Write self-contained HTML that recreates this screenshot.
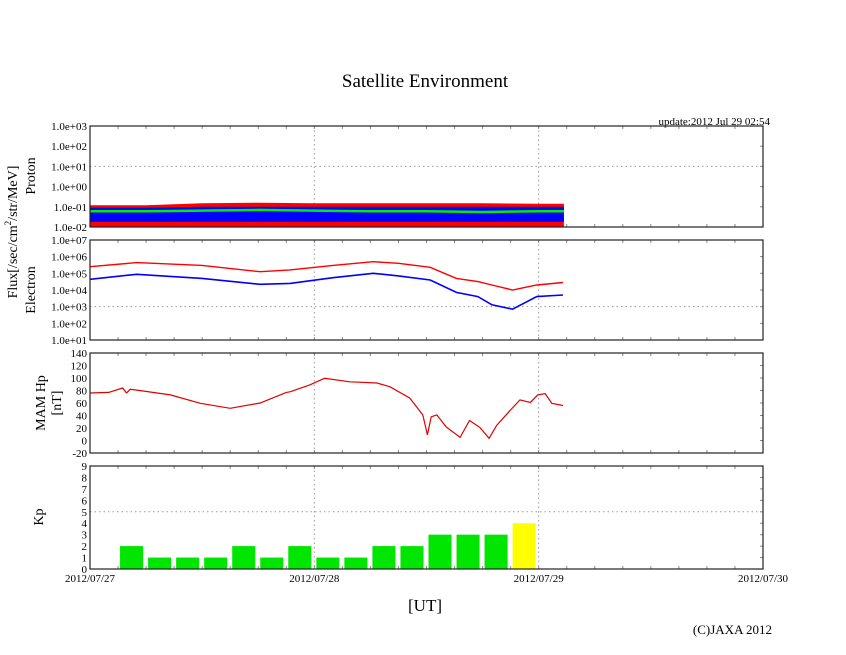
<!DOCTYPE html>
<html><head><meta charset="utf-8">
<style>
html,body{margin:0;padding:0;background:#fff;}
svg{display:block;font-family:"Liberation Serif",serif;}
</style></head>
<body>
<svg id="chart" width="846" height="655" viewBox="0 0 846 655" xmlns="http://www.w3.org/2000/svg">
<text x="425" y="87" font-size="19" text-anchor="middle">Satellite Environment</text>
<text x="770" y="125" font-size="11" text-anchor="end">update:2012 Jul 29 02:54</text>
<text transform="translate(17,232) rotate(-90)" font-size="14" text-anchor="middle">Flux[/sec/cm<tspan font-size="9" dy="-6">2</tspan><tspan dy="6">/str/MeV]</tspan></text>
<text transform="translate(35,176) rotate(-90)" font-size="14" text-anchor="middle">Proton</text>
<text transform="translate(35,290) rotate(-90)" font-size="14" text-anchor="middle">Electron</text>
<text transform="translate(45,403) rotate(-90)" font-size="14" text-anchor="middle">MAM Hp</text>
<text transform="translate(61,403) rotate(-90)" font-size="14" text-anchor="middle">[nT]</text>
<text transform="translate(43,517) rotate(-90)" font-size="14" text-anchor="middle">Kp</text>
<text x="425" y="611" font-size="17" text-anchor="middle">[UT]</text>
<text x="772" y="634" font-size="13" text-anchor="end">(C)JAXA 2012</text>
<g id="plots"></g>
</svg>
<script>
// ---- data ----
const dateLabels = ["2012/07/27","2012/07/28","2012/07/29","2012/07/30"];
const protonTicks = ["1.0e-02","1.0e-01","1.0e+00","1.0e+01","1.0e+02","1.0e+03"];
const electronTicks = ["1.0e+01","1.0e+02","1.0e+03","1.0e+04","1.0e+05","1.0e+06","1.0e+07"];
const hpTicks = [-20,0,20,40,60,80,100,120,140];
const kpTicks = [0,1,2,3,4,5,6,7,8,9];
// hours since 2012/07/27 00:00
const protonHours = [0,6,12,18,24,30,36,42,48,50.7];
const protonRedMax = [0.12,0.12,0.15,0.16,0.15,0.15,0.15,0.15,0.14,0.14];
const protonBlueMax = [0.09,0.09,0.1,0.1,0.1,0.1,0.1,0.1,0.1,0.1];
const protonGreen = [0.06,0.06,0.065,0.07,0.065,0.06,0.06,0.055,0.06,0.06];
const elecHours = [0,5,12,18.2,21.4,26,30.3,33,36.4,39.2,41.5,43,45.2,47.8,50.6];
const elecRed = [2.5e5,4.4e5,3e5,1.25e5,1.6e5,3e5,5e5,4e5,2.3e5,5e4,3.2e4,2e4,1e4,2e4,2.8e4];
const elecBlue = [4.4e4,8.7e4,5e4,2.2e4,2.5e4,5.5e4,1e5,7e4,4e4,7.2e3,4e3,1.3e3,7e2,4e3,5e3];
const hpHours = [0,2,3.5,3.9,4.3,5.3,8.6,11.8,15,18.2,21,21.4,23.5,25.1,27.8,30.7,32.1,34.2,35.6,36.1,36.5,37.1,38.1,39.6,40.6,41.7,42.7,43.5,45,46,47.1,47.9,48.7,49.4,50.6];
const hpValues = [76,77,84,76,82,80,73,59.5,51.5,60,77,78,89,99.5,94,92,86,68,41,9,38,41,22,5,32,21,3.5,24,49,65,61,73,75,59.5,56];
const kpSlots = [1,2,3,4,5,6,7,8,9,10,11,12,13,14,15];
const kpValues = [2,1,1,1,2,1,2,1,1,2,2,3,3,3,4];
const kpColors = ["#00e600","#00e600","#00e600","#00e600","#00e600","#00e600","#00e600","#00e600","#00e600","#00e600","#00e600","#00e600","#00e600","#00e600","#ffff00"];

// ---- layout ----
const X0=90, X1=763;
const panels = {
  proton:{top:126,bottom:227},
  electron:{top:240,bottom:340},
  hp:{top:353,bottom:453},
  kp:{top:466,bottom:569}
};
const NS="http://www.w3.org/2000/svg";
const g=document.getElementById('plots');
function el(tag,attrs,parent){const e=document.createElementNS(NS,tag);for(const k in attrs)e.setAttribute(k,attrs[k]);(parent||g).appendChild(e);return e;}
const xs = h => X0 + h*(X1-X0)/72;
const logY = (p,lo,hi) => v => p.bottom - (Math.log10(v)-lo)/(hi-lo)*(p.bottom-p.top);
const linY = (p,lo,hi) => v => p.bottom - (v-lo)/(hi-lo)*(p.bottom-p.top);
const yP = logY(panels.proton,-2,3);
const yE = logY(panels.electron,1,7);
const yH = linY(panels.hp,-20,140);
const yK = linY(panels.kp,0,9);

function frame(name,p,ticksY,labels){
  [24,48].forEach(h=>{
    const l=el('line',{x1:xs(h),x2:xs(h),y1:p.top,y2:p.bottom,stroke:'#999','stroke-dasharray':'1.5,3','stroke-width':1});
    
    
  });
  for(let h=3;h<72;h+=3){
    el('line',{x1:xs(h),x2:xs(h),y1:p.top,y2:p.top+3,stroke:'#888'});
    el('line',{x1:xs(h),x2:xs(h),y1:p.bottom,y2:p.bottom-3,stroke:'#888'});
  }
  ticksY.forEach((ty,i)=>{
    el('line',{x1:X1,x2:X1-3,y1:ty,y2:ty,stroke:'#888'});
    const t=el('text',{x:X0-3,y:ty+4,'font-size':11,'text-anchor':'end'});
    t.textContent=labels[i];
    
    
  });
}
function border(name,p){
  const r=el('rect',{x:X0,y:p.top,width:X1-X0,height:p.bottom-p.top,fill:'none',stroke:'#222','stroke-width':1.2});
  
  
}
function hgrid(name,y){
  const l=el('line',{x1:X0,x2:X1,y1:y,y2:y,stroke:'#999','stroke-dasharray':'1.5,3'});
  
  
}
function path(xsArr,ysArr,fx,fy){return xsArr.map((h,i)=>(i?'L':'M')+fx(h).toFixed(1)+','+fy(ysArr[i]).toFixed(1)).join('');}

// proton
frame('proton',panels.proton,protonTicks.map((_,i)=>yP(Math.pow(10,i-2))),protonTicks);
hgrid('proton',yP(10));
const pb=yP(0.01);
let rd=path(protonHours,protonRedMax,xs,yP)+'L'+xs(protonHours[protonHours.length-1])+','+pb+'L'+xs(0)+','+pb+'Z';
const red=el('path',{d:rd,fill:'#ff0000'});


let bd=path(protonHours,protonBlueMax,xs,yP)+[...protonHours].reverse().map(h=>'L'+xs(h)+','+yP(0.018)).join('')+'Z';
const blue=el('path',{d:bd,fill:'#0000ff'});


const gr=el('path',{d:path(protonHours,protonGreen,xs,yP),fill:'none',stroke:'#00ee00','stroke-width':2.5});


border('proton',panels.proton);

// electron
frame('electron',panels.electron,electronTicks.map((_,i)=>yE(Math.pow(10,i+1))),electronTicks);
hgrid('electron',yE(1000));
const er=el('path',{d:path(elecHours,elecRed,xs,yE),fill:'none',stroke:'#ff0000','stroke-width':1.4});


const eb=el('path',{d:path(elecHours,elecBlue,xs,yE),fill:'none',stroke:'#0000ff','stroke-width':1.6});


border('electron',panels.electron);

// hp
frame('hp',panels.hp,hpTicks.map(v=>yH(v)),hpTicks.map(String));
const hl=el('path',{d:path(hpHours,hpValues,xs,yH),fill:'none',stroke:'#e00000','stroke-width':1.2});


border('hp',panels.hp);

// kp
frame('kp',panels.kp,kpTicks.map(v=>yK(v)),kpTicks.map(String));
hgrid('kp',yK(5));
kpSlots.forEach((s,i)=>{
  const x=xs(s*3)+2, w=xs(3)-X0-5;
  const b=el('rect',{x:x,y:yK(kpValues[i]),width:w,height:yK(0)-yK(kpValues[i]),fill:kpColors[i]});
  
  
});
border('kp',panels.kp);

// date labels
dateLabels.forEach((d,i)=>{
  const t=el('text',{x:xs(i*24),y:582,'font-size':11,'text-anchor':'middle'});
  t.textContent=d;
  
  
});
</script>
</body></html>
